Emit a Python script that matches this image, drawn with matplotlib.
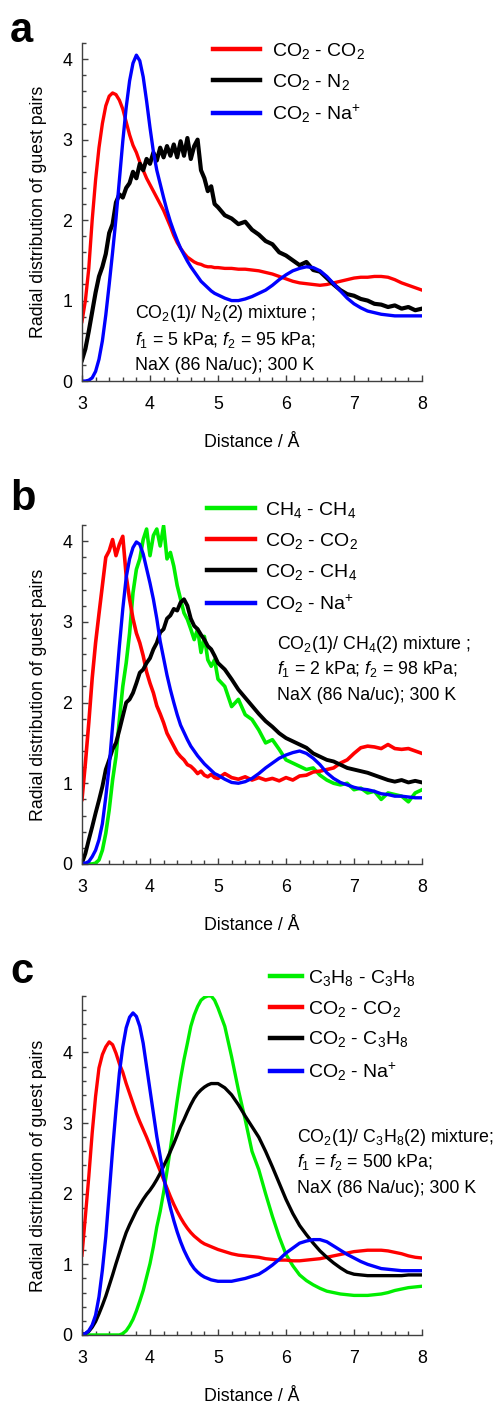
import numpy as np
import matplotlib
matplotlib.use("Agg")
import matplotlib.pyplot as plt
from matplotlib.ticker import MultipleLocator

plt.rcParams['font.family'] = ['Liberation Sans', 'DejaVu Sans']
plt.rcParams['mathtext.fontset'] = 'custom'
plt.rcParams['mathtext.rm'] = 'Liberation Sans'
plt.rcParams['mathtext.it'] = 'Liberation Sans:italic'
plt.rcParams['mathtext.default'] = 'regular'

# distance grid (Angstrom): fine steps up to 5, then 0.1
r = np.concatenate([np.round(np.arange(3.0, 5.001, 0.05), 2),
                    np.round(np.arange(5.1, 8.001, 0.1), 2)])

# ---- panel a : CO2 / N2 ----
a_co2_co2 = [0.74, 1.00, 1.40, 2.00, 2.50, 2.90, 3.20, 3.42, 3.54, 3.58,
             3.56, 3.49, 3.38, 3.22, 3.06, 2.93, 2.84, 2.72, 2.62, 2.52,
             2.44, 2.36, 2.28, 2.20, 2.12, 2.02, 1.92, 1.81, 1.72, 1.65,
             1.59, 1.54, 1.51, 1.48, 1.46, 1.45, 1.43, 1.42, 1.42, 1.41, 1.41,
             1.40, 1.40, 1.39, 1.39, 1.38, 1.37, 1.35, 1.33, 1.30, 1.27,
             1.24, 1.22, 1.21, 1.20, 1.19, 1.20, 1.22, 1.24, 1.26, 1.28,
             1.29, 1.29, 1.30, 1.30, 1.29, 1.26, 1.22, 1.19, 1.16, 1.13]
a_co2_n2 = [0.26, 0.40, 0.62, 0.86, 1.10, 1.30, 1.42, 1.58, 1.84, 1.95,
            2.22, 2.32, 2.28, 2.40, 2.46, 2.60, 2.52, 2.70, 2.62, 2.76,
            2.70, 2.84, 2.74, 2.90, 2.78, 2.92, 2.80, 2.94, 2.78, 2.98,
            2.80, 3.02, 2.76, 2.92, 3.00, 2.62, 2.52, 2.36, 2.42, 2.20, 2.16,
            2.06, 2.02, 1.95, 1.98, 1.88, 1.82, 1.74, 1.70, 1.60, 1.56,
            1.50, 1.44, 1.48, 1.38, 1.36, 1.28, 1.20, 1.13, 1.08, 1.06,
            1.02, 1.00, 0.96, 0.95, 0.92, 0.94, 0.90, 0.92, 0.88, 0.90]
a_co2_na = [0.00, 0.00, 0.01, 0.04, 0.12, 0.27, 0.50, 0.82, 1.20, 1.60,
            2.02, 2.50, 2.98, 3.40, 3.73, 3.95, 4.05, 3.98, 3.78, 3.48,
            3.15, 2.85, 2.62, 2.45, 2.28, 2.12, 1.98, 1.86, 1.75, 1.65,
            1.57, 1.49, 1.42, 1.36, 1.30, 1.24, 1.20, 1.16, 1.12, 1.09, 1.07,
            1.03, 1.00, 1.00, 1.02, 1.05, 1.09, 1.13, 1.19, 1.26, 1.32,
            1.37, 1.40, 1.42, 1.41, 1.37, 1.30, 1.21, 1.12, 1.03, 0.96,
            0.91, 0.87, 0.85, 0.83, 0.82, 0.81, 0.81, 0.81, 0.81, 0.81]

# ---- panel b : CO2 / CH4 ----
b_ch4_ch4 = [0.00, 0.00, 0.00, 0.00, 0.01, 0.05, 0.17, 0.38, 0.67, 1.04,
             1.33, 1.79, 2.20, 2.49, 2.86, 3.36, 3.65, 3.78, 4.02, 4.15,
             3.82, 4.07, 4.15, 3.94, 4.19, 3.78, 3.86, 3.69, 3.45, 3.28,
             3.11, 3.03, 2.91, 2.78, 2.91, 2.62, 2.82, 2.53, 2.45, 2.53, 2.29,
             2.20, 1.95, 2.04, 1.85, 1.79, 1.66, 1.50, 1.54, 1.42, 1.29,
             1.25, 1.21, 1.17, 1.19, 1.10, 1.04, 1.00, 0.98, 1.00, 0.92,
             0.94, 0.88, 0.90, 0.80, 0.88, 0.86, 0.84, 0.77, 0.88, 0.92]
b_co2_co2 = [0.80, 1.25, 1.75, 2.30, 2.74, 3.10, 3.45, 3.80, 3.88, 4.02,
             3.82, 3.96, 4.06, 3.57, 3.28, 3.04, 2.86, 2.74, 2.58, 2.38,
             2.24, 2.12, 1.96, 1.86, 1.75, 1.62, 1.54, 1.46, 1.38, 1.33,
             1.29, 1.23, 1.21, 1.17, 1.12, 1.15, 1.10, 1.08, 1.11, 1.07, 1.06,
             1.12, 1.07, 1.05, 1.08, 1.04, 1.07, 1.04, 1.06, 1.03, 1.07,
             1.04, 1.09, 1.10, 1.14, 1.15, 1.17, 1.19, 1.25, 1.29, 1.37,
             1.44, 1.46, 1.45, 1.43, 1.48, 1.43, 1.42, 1.43, 1.40, 1.37]
b_co2_ch4 = [0.01, 0.13, 0.30, 0.46, 0.63, 0.79, 0.96, 1.17, 1.29, 1.42,
             1.50, 1.66, 1.83, 2.00, 2.04, 2.12, 2.24, 2.37, 2.41, 2.49,
             2.55, 2.66, 2.74, 2.87, 2.91, 3.04, 3.08, 3.16, 3.14, 3.24,
             3.28, 3.20, 3.04, 2.95, 2.91, 2.84, 2.78, 2.70, 2.66, 2.58, 2.49,
             2.41, 2.29, 2.16, 2.06, 1.96, 1.86, 1.77, 1.70, 1.62, 1.56,
             1.52, 1.48, 1.44, 1.37, 1.33, 1.29, 1.27, 1.23, 1.19, 1.17,
             1.15, 1.13, 1.10, 1.07, 1.04, 1.02, 1.04, 1.01, 1.03, 1.01]
b_co2_na = [0.01, 0.01, 0.03, 0.09, 0.17, 0.30, 0.50, 0.83, 1.21, 1.71,
            2.20, 2.70, 3.16, 3.55, 3.78, 3.92, 3.99, 3.96, 3.84, 3.66,
            3.48, 3.28, 3.04, 2.76, 2.55, 2.34, 2.16, 2.00, 1.85, 1.72,
            1.63, 1.54, 1.46, 1.40, 1.34, 1.29, 1.24, 1.20, 1.16, 1.12, 1.10,
            1.05, 1.01, 1.00, 1.02, 1.06, 1.12, 1.19, 1.25, 1.31, 1.35,
            1.38, 1.40, 1.37, 1.31, 1.23, 1.13, 1.06, 1.01, 0.98, 0.95,
            0.93, 0.92, 0.90, 0.87, 0.86, 0.84, 0.84, 0.83, 0.82, 0.82]

# ---- panel c : CO2 / C3H8 ----
c_c3h8_c3h8 = [0.00, 0.00, 0.00, 0.00, 0.00, 0.00, 0.00, 0.00, 0.00, 0.00,
               0.00, 0.00, 0.02, 0.06, 0.13, 0.22, 0.34, 0.48, 0.63, 0.82,
               1.01, 1.25, 1.53, 1.75, 2.02, 2.32, 2.64, 2.98, 3.32, 3.63,
               3.90, 4.13, 4.37, 4.53, 4.65, 4.74, 4.78, 4.80, 4.80, 4.74, 4.63,
               4.37, 3.94, 3.47, 3.05, 2.60, 2.34, 2.00, 1.68, 1.39, 1.14,
               0.98, 0.85, 0.77, 0.71, 0.66, 0.62, 0.60, 0.58, 0.57, 0.56,
               0.56, 0.56, 0.57, 0.58, 0.60, 0.63, 0.65, 0.67, 0.68, 0.69]
c_co2_co2 = [1.13, 1.68, 2.24, 2.86, 3.38, 3.78, 3.97, 4.08, 4.15, 4.11,
             3.99, 3.84, 3.72, 3.56, 3.42, 3.28, 3.14, 3.02, 2.91, 2.80,
             2.68, 2.56, 2.44, 2.32, 2.20, 2.08, 1.96, 1.85, 1.75, 1.66,
             1.58, 1.51, 1.45, 1.40, 1.36, 1.32, 1.29, 1.27, 1.25, 1.23, 1.21,
             1.18, 1.15, 1.13, 1.12, 1.11, 1.10, 1.08, 1.07, 1.06, 1.06,
             1.05, 1.05, 1.06, 1.07, 1.08, 1.10, 1.12, 1.14, 1.16, 1.18,
             1.19, 1.20, 1.20, 1.20, 1.19, 1.17, 1.15, 1.12, 1.10, 1.09]
c_co2_c3h8 = [0.01, 0.02, 0.05, 0.11, 0.19, 0.30, 0.42, 0.55, 0.70, 0.85,
              1.01, 1.16, 1.31, 1.45, 1.56, 1.66, 1.76, 1.84, 1.92, 1.99,
              2.05, 2.12, 2.20, 2.29, 2.39, 2.49, 2.60, 2.71, 2.83, 2.95,
              3.05, 3.16, 3.26, 3.35, 3.42, 3.47, 3.51, 3.54, 3.56, 3.56, 3.56,
              3.50, 3.40, 3.26, 3.10, 2.95, 2.80, 2.60, 2.38, 2.15, 1.92,
              1.72, 1.55, 1.42, 1.30, 1.19, 1.10, 1.02, 0.95, 0.89, 0.86,
              0.85, 0.84, 0.84, 0.84, 0.84, 0.84, 0.84, 0.85, 0.85, 0.85]
c_co2_na = [0.01, 0.02, 0.06, 0.14, 0.28, 0.54, 0.92, 1.39, 2.00, 2.62,
            3.19, 3.71, 4.08, 4.35, 4.50, 4.56, 4.51, 4.37, 4.13, 3.80,
            3.47, 3.14, 2.81, 2.53, 2.24, 2.01, 1.80, 1.62, 1.46, 1.32,
            1.20, 1.10, 1.01, 0.94, 0.89, 0.85, 0.82, 0.80, 0.78, 0.77, 0.76,
            0.76, 0.76, 0.78, 0.80, 0.83, 0.86, 0.92, 0.99, 1.07, 1.16,
            1.23, 1.30, 1.33, 1.35, 1.35, 1.32, 1.26, 1.20, 1.14, 1.09,
            1.04, 1.00, 0.97, 0.94, 0.93, 0.92, 0.91, 0.91, 0.91, 0.91]

GREEN = '#00ee00'
SPINE = '#404040'
FS = 12.8
NA = 'CO$_2$ - Na$^{{+}}$'


def style_axis(ax, ytop):
    ax.set_xlim(3, 8)
    ax.set_ylim(0, ytop)
    for s in ['top', 'right']:
        ax.spines[s].set_visible(False)
    for s in ['left', 'bottom']:
        ax.spines[s].set_color(SPINE)
        ax.spines[s].set_linewidth(1.0)
    ax.xaxis.set_major_locator(MultipleLocator(1))
    ax.xaxis.set_minor_locator(MultipleLocator(0.2))
    ax.yaxis.set_major_locator(MultipleLocator(1))
    ax.yaxis.set_minor_locator(MultipleLocator(0.2))
    ax.tick_params(which='both', direction='in', color=SPINE, width=1.0,
                   labelsize=FS, top=False, right=False)
    ax.tick_params(which='major', length=4.5)
    ax.tick_params(which='minor', length=3)
    ax.tick_params(axis='x', which='major', pad=11)
    ax.tick_params(axis='y', which='major', pad=7)
    ax.set_xlabel('Distance / Å', fontsize=FS, labelpad=15)
    ax.set_ylabel('Radial distribution of guest pairs', fontsize=FS, labelpad=11)


def add_legend(ax, anchor, hlen, tpad):
    leg = ax.legend(loc='center left', bbox_to_anchor=anchor, frameon=False,
                    fontsize=14, handlelength=hlen, handletextpad=tpad,
                    labelspacing=0.56, borderpad=0, borderaxespad=0)
    for ln in leg.get_lines():
        ln.set_linewidth(3.2)


def add_note(ax, x, ys, lines):
    for y, t in zip(ys, lines):
        ax.text(x, y, t, transform=ax.transAxes, fontsize=FS, va='baseline')


fig = plt.figure(figsize=(4.93, 14.03), dpi=100)
LW = 2.4

# panel a
ax1 = fig.add_axes([0.1663, 0.7284, 0.6897, 0.2409])
ax1.plot(r, a_co2_co2, color='red', lw=LW, label='CO$_2$ - CO$_2$')
ax1.plot(r, a_co2_n2, color='black', lw=3.0, label='CO$_2$ - N$_2$')
ax1.plot(r, a_co2_na, color='blue', lw=LW, label=NA)
style_axis(ax1, 4.2)
add_legend(ax1, (0.385, 0.882), 2.42, 0.62)
add_note(ax1, 0.156, [0.1864, 0.1065, 0.0325],
         ['CO$_2$(1)/ N$_2$(2) mixture ;',
          r'$\mathit{f}_1$ = 5 kPa; $\mathit{f}_2$ = 95 kPa;',
          'NaX (86 Na/uc); 300 K'])

# panel b
ax2 = fig.add_axes([0.1663, 0.3842, 0.6897, 0.2416])
ax2.plot(r, b_ch4_ch4, color=GREEN, lw=2.6, label='CH$_4$ - CH$_4$')
ax2.plot(r, b_co2_co2, color='red', lw=2.6, label='CO$_2$ - CO$_2$')
ax2.plot(r, b_co2_ch4, color='black', lw=2.8, label='CO$_2$ - CH$_4$')
ax2.plot(r, b_co2_na, color='blue', lw=LW, label=NA)
style_axis(ax2, 4.2)
add_legend(ax2, (0.368, 0.904), 2.47, 0.51)
add_note(ax2, 0.574, [0.634, 0.560, 0.484],
         ['CO$_2$(1)/ CH$_4$(2) mixture ;',
          r'$\mathit{f}_1$ = 2 kPa; $\mathit{f}_2$ = 98 kPa;',
          'NaX (86 Na/uc); 300 K'])

# panel c
ax3 = fig.add_axes([0.1663, 0.0485, 0.6897, 0.2416])
ax3.plot(r, c_c3h8_c3h8, color=GREEN, lw=LW, label='C$_3$H$_8$ - C$_3$H$_8$')
ax3.plot(r, c_co2_co2, color='red', lw=LW, label='CO$_2$ - CO$_2$')
ax3.plot(r, c_co2_c3h8, color='black', lw=LW, label='CO$_2$ - C$_3$H$_8$')
ax3.plot(r, c_co2_na, color='blue', lw=LW, label=NA)
style_axis(ax3, 4.8)
add_legend(ax3, (0.553, 0.914), 1.65, 0.31)
add_note(ax3, 0.632, [0.569, 0.496, 0.419],
         ['CO$_2$(1)/ C$_3$H$_8$(2) mixture;',
          r'$\mathit{f}_1$ = $\mathit{f}_2$ = 500 kPa;',
          'NaX (86 Na/uc); 300 K'])

# panel letters
for lab, yb in [('a', 0.9701), ('b', 0.6365), ('c', 0.2994)]:
    fig.text(0.0203, yb, lab, fontsize=30, fontweight='bold', va='baseline')

fig.savefig('out.png', dpi=100)
